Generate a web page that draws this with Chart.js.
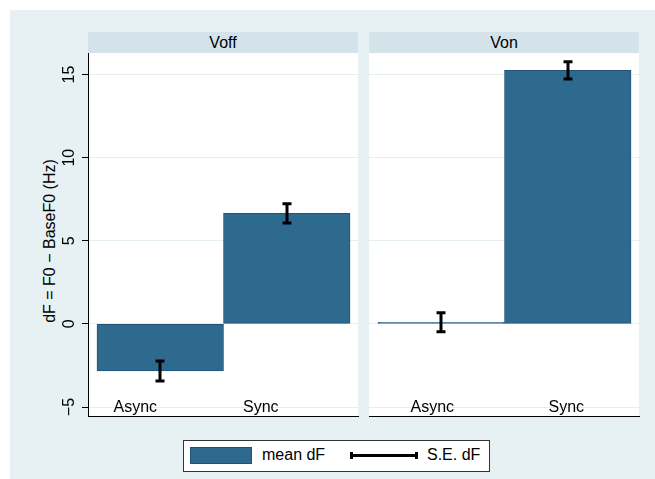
<!DOCTYPE html>
<html>
<head>
<meta charset="utf-8">
<script src="https://cdn.jsdelivr.net/npm/chart.js@4.4.1/dist/chart.umd.min.js"></script>
<style>
  body { margin: 0; background: #fff; width: 655px; height: 479px; overflow: hidden;
         font-family: "Liberation Sans", Arial, Helvetica, sans-serif; color: #000; }
  #bg { position: absolute; left: 10px; top: 10px; width: 645px; height: 469px; background: #e7f0f2; }
  .strip { position: absolute; top: 32px; height: 21px; background: #d4e3ea;
           font-size: 16px; text-align: center; line-height: 21px; }
  canvas { position: absolute; }
  #ytitle { position: absolute; left: 50px; top: 241px; font-size: 16px; white-space: nowrap;
            transform: translate(-50%, -50%) rotate(-90deg); }
  #legend { position: absolute; left: 183px; top: 440px; width: 305px; height: 30px;
            background: #fff; border: 1px solid #333; }
  #legend .sw { position: absolute; left: 6px; top: 6px; width: 60px; height: 15px;
                background: #2d6a8e; border: 1px solid #1f5478; }
  #legend .txt { position: absolute; top: 5px; font-size: 16px; line-height: 18px; }
  #legend .ln { position: absolute; left: 167px; top: 13px; width: 66px; height: 3px; background: #000; }
  #legend .cap { position: absolute; top: 11px; width: 3px; height: 7px; background: #000; }
</style>
</head>
<body>
<div id="bg"></div>
<div class="strip" style="left:88px;width:270px;">Voff</div>
<div class="strip" style="left:369px;width:270px;">Von</div>
<div id="ytitle">dF = F0 − BaseF0 (Hz)</div>
<canvas id="voff" width="350" height="366" style="left:10px;top:53px;"></canvas>
<canvas id="von" width="272" height="366" style="left:369px;top:53px;"></canvas>
<div id="legend">
  <div class="sw"></div>
  <div class="txt" style="left:78px;">mean dF</div>
  <div class="ln"></div>
  <div class="cap" style="left:166px;"></div>
  <div class="cap" style="left:231px;"></div>
  <div class="txt" style="left:243px;">S.E. dF</div>
</div>
<script>
// data
const categories = ['Async', 'Sync'];
const catPos = [1, 2];
const meanVoff = [-2.83, 6.65];
const seVoff = [0.6, 0.58];
const meanVon = [0.1, 15.25];
const seVon = [0.57, 0.52];
const yTicks = [-5, 0, 5, 10, 15];
const yMin = -5.54;
const yMax = 16.3;

const barColor = '#2d6a8e';
const barBorder = '#1f5478';
const gridColor = '#e4eef1';
const font = '16px "Liberation Sans", Arial, Helvetica, sans-serif';

// white plot area, error bars, category labels and y tick labels
const panelPlugin = {
  id: 'panel',
  beforeDraw(chart) {
    const a = chart.chartArea;
    const ctx = chart.ctx;
    ctx.save();
    ctx.fillStyle = '#fff';
    ctx.fillRect(a.left, a.top, a.right - a.left, a.bottom - a.top);
    ctx.restore();
  },
  afterDatasetsDraw(chart, args, opts) {
    const ctx = chart.ctx;
    const xs = chart.scales.x, ys = chart.scales.y;
    ctx.save();
    // error bars
    ctx.strokeStyle = '#000';
    ctx.lineWidth = 3;
    ctx.lineCap = 'butt';
    opts.means.forEach((m, i) => {
      const x = Math.round(xs.getPixelForValue(catPos[i]));
      const top = ys.getPixelForValue(m + opts.ses[i]);
      const bot = ys.getPixelForValue(m - opts.ses[i]);
      ctx.beginPath();
      ctx.moveTo(x, top); ctx.lineTo(x, bot);
      ctx.moveTo(x - 4.5, top); ctx.lineTo(x + 4.5, top);
      ctx.moveTo(x - 4.5, bot); ctx.lineTo(x + 4.5, bot);
      ctx.stroke();
    });
    // category labels inside the plot
    ctx.fillStyle = '#000';
    ctx.font = font;
    ctx.textAlign = 'center';
    ctx.textBaseline = 'alphabetic';
    categories.forEach((c, i) => {
      const x = xs.getPixelForValue(catPos[i]) + opts.labelShift[i];
      ctx.fillText(c, x, chart.chartArea.bottom - 4.5);
    });
    // rotated y tick labels
    if (opts.yLabels) {
      ctx.textBaseline = 'middle';
      yTicks.forEach(v => {
        const y = ys.getPixelForValue(v);
        ctx.save();
        ctx.translate(60, y);
        ctx.rotate(-Math.PI / 2);
        ctx.fillText(v === -5 ? '\u22125' : String(v), 0, 0);
        ctx.restore();
      });
    }
    ctx.restore();
  }
};

function makePanel(id, means, ses, withAxis, labelShift) {
  return new Chart(document.getElementById(id), {
    type: 'bar',
    data: {
      datasets: [{
        label: 'mean dF',
        data: catPos.map((x, i) => ({ x: x, y: means[i] })),
        backgroundColor: barColor,
        borderColor: barBorder,
        borderWidth: 1,
        borderSkipped: false,
        barPercentage: 1,
        categoryPercentage: 1
      }]
    },
    options: {
      responsive: false,
      animation: false,
      layout: { padding: { top: 0, right: 2, bottom: 0, left: 0 } },
      plugins: {
        legend: { display: false },
        tooltip: { enabled: false },
        panel: { means: means, ses: ses, yLabels: withAxis, labelShift: labelShift }
      },
      scales: {
        x: {
          type: 'linear',
          offset: false,
          min: 0.429,
          max: 2.563,
          afterBuildTicks: s => { s.ticks = catPos.map(v => ({ value: v })); },
          afterFit: s => { s.height = 3; },
          ticks: { display: false },
          grid: { display: false, offset: false },
          border: { display: true, color: '#000', width: 1 }
        },
        y: {
          min: yMin,
          max: yMax,
          afterBuildTicks: s => { s.ticks = yTicks.map(v => ({ value: v })); },
          afterFit: s => { s.width = withAxis ? 78 : 0; },
          ticks: { display: false },
          grid: {
            color: gridColor,
            lineWidth: 1,
            drawTicks: withAxis,
            tickLength: 6,
            tickColor: '#000'
          },
          border: { display: withAxis, color: '#000', width: 1 }
        }
      }
    },
    plugins: [panelPlugin]
  });
}

makePanel('voff', meanVoff, seVoff, true, [-25, -26]);
makePanel('von', meanVon, seVon, false, [-9, -1.5]);
</script>
</body>
</html>
